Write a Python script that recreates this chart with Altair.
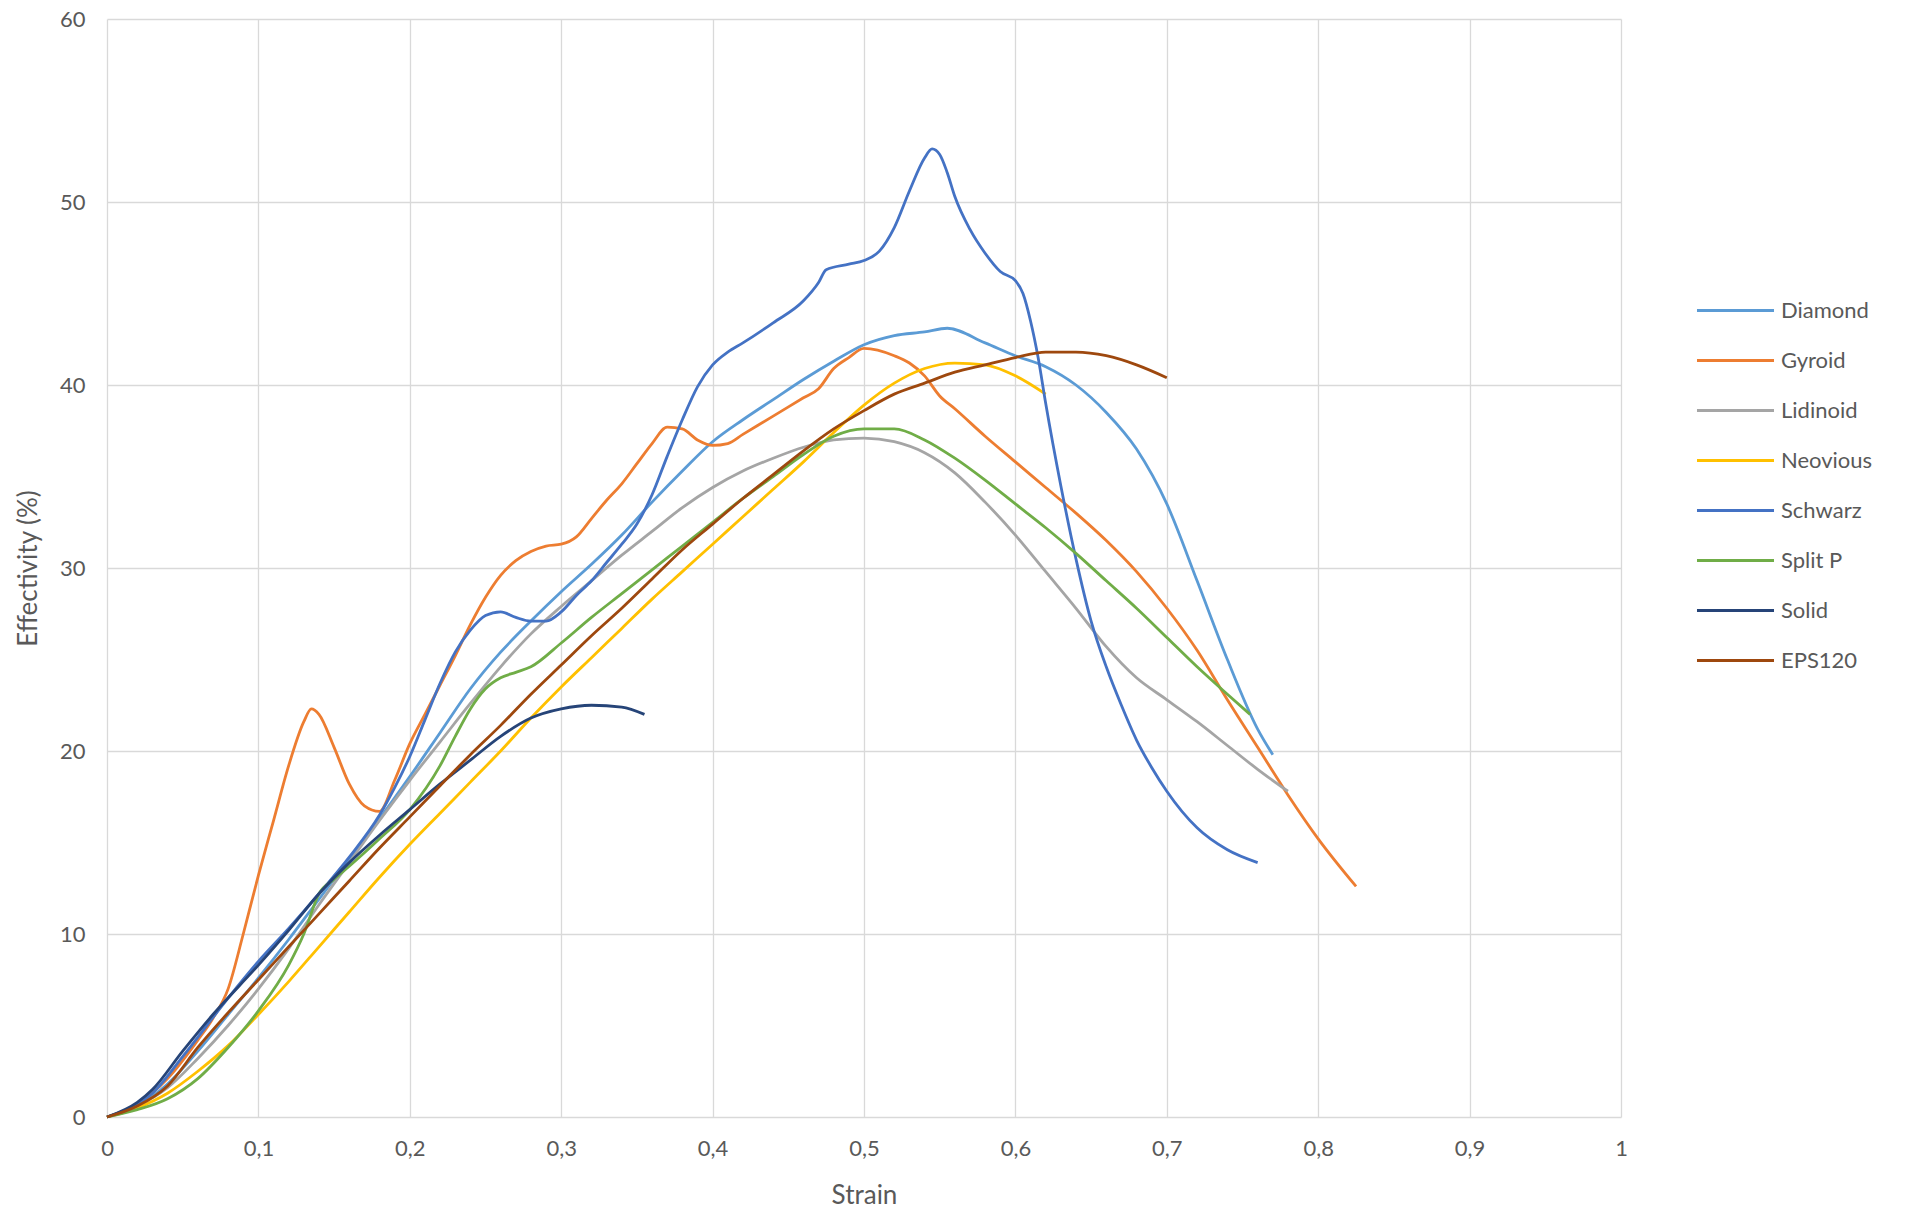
import altair as alt
import pandas as pd

# Effectivity (%) against strain for each lattice / reference material
series_names = ["Diamond", "Gyroid", "Lidinoid", "Neovious", "Schwarz", "Split P", "Solid", "EPS120"]
series_colors = ["#5B9BD5", "#ED7D31", "#A5A5A5", "#FFC000", "#4472C4", "#70AD47", "#264478", "#9E480E"]

diamond_x = [0, 0.02, 0.04, 0.06, 0.08, 0.1, 0.12, 0.14, 0.16, 0.18, 0.2, 0.22, 0.24, 0.26, 0.28,
             0.3, 0.32, 0.34, 0.36, 0.38, 0.4, 0.42, 0.44, 0.46, 0.48, 0.5, 0.52, 0.54, 0.555, 0.58,
             0.6, 0.62, 0.64, 0.66, 0.68, 0.7, 0.72, 0.74, 0.76, 0.77]
diamond_y = [0, 0.6, 1.8, 3.6, 5.6, 7.6, 9.7, 11.9, 14.1, 16.3, 18.6, 21.0, 23.4, 25.4, 27.1,
             28.7, 30.2, 31.8, 33.6, 35.3, 36.9, 38.1, 39.2, 40.3, 41.3, 42.2, 42.7, 42.9, 43.1, 42.3,
             41.6, 41.0, 40.0, 38.5, 36.5, 33.5, 29.3, 25.0, 21.2, 19.8]

gyroid_x = [0, 0.02, 0.04, 0.06, 0.07, 0.08, 0.09, 0.1, 0.11, 0.12, 0.13, 0.135, 0.14, 0.15, 0.16,
            0.17, 0.18, 0.19, 0.2, 0.21, 0.22, 0.23, 0.24, 0.25, 0.26, 0.27, 0.28, 0.29, 0.3, 0.31,
            0.32, 0.33, 0.34, 0.35, 0.36, 0.37, 0.38, 0.39, 0.4, 0.41, 0.42, 0.44, 0.46, 0.47, 0.48,
            0.49, 0.5, 0.52, 0.53, 0.54, 0.55, 0.56, 0.58, 0.6, 0.62, 0.64, 0.66, 0.68, 0.7, 0.72,
            0.74, 0.76, 0.78, 0.8, 0.825]
gyroid_y = [0, 0.7, 2.1, 4.2, 5.4, 7.0, 10.0, 13.2, 16.2, 19.2, 21.6, 22.3, 22.0, 20.2, 18.2,
            17.0, 16.7, 18.4, 20.4, 22.0, 23.6, 25.2, 26.9, 28.4, 29.6, 30.4, 30.9, 31.2, 31.3, 31.7,
            32.7, 33.7, 34.6, 35.7, 36.8, 37.7, 37.6, 37.0, 36.7, 36.8, 37.3, 38.3, 39.3, 39.8, 40.9,
            41.5, 42.0, 41.6, 41.2, 40.5, 39.4, 38.7, 37.2, 35.8, 34.4, 33.0, 31.5, 29.8, 27.8, 25.5,
            22.8, 20.2, 17.6, 15.2, 12.6]

lidinoid_x = [0, 0.02, 0.04, 0.06, 0.08, 0.1, 0.12, 0.14, 0.16, 0.18, 0.2, 0.22, 0.24, 0.26, 0.28,
              0.3, 0.32, 0.34, 0.36, 0.38, 0.4, 0.42, 0.44, 0.46, 0.48, 0.5, 0.52, 0.54, 0.56, 0.58,
              0.6, 0.62, 0.64, 0.66, 0.68, 0.7, 0.72, 0.74, 0.76, 0.78]
lidinoid_y = [0, 0.6, 1.6, 3.2, 5.0, 7.0, 9.2, 11.6, 13.9, 16.2, 18.4, 20.5, 22.6, 24.6, 26.4,
              27.9, 29.3, 30.7, 32.0, 33.3, 34.4, 35.3, 36.0, 36.6, 37.0, 37.1, 36.9, 36.3, 35.2, 33.6,
              31.8, 29.8, 27.8, 25.7, 24.0, 22.8, 21.6, 20.3, 19.0, 17.8]

neovious_x = [0, 0.02, 0.04, 0.06, 0.08, 0.1, 0.12, 0.14, 0.16, 0.18, 0.2, 0.22, 0.24, 0.26, 0.28,
              0.3, 0.32, 0.34, 0.36, 0.38, 0.4, 0.42, 0.44, 0.46, 0.48, 0.5, 0.52, 0.54, 0.56, 0.58,
              0.6, 0.62]
neovious_y = [0, 0.5, 1.3, 2.5, 3.9, 5.6, 7.4, 9.3, 11.2, 13.1, 14.9, 16.6, 18.3, 20.0, 21.8,
              23.5, 25.1, 26.7, 28.3, 29.8, 31.3, 32.8, 34.3, 35.8, 37.4, 38.9, 40.1, 40.9, 41.2, 41.1,
              40.5, 39.5]

schwarz_x = [0, 0.02, 0.03, 0.05, 0.08, 0.1, 0.12, 0.14, 0.16, 0.18, 0.19, 0.2, 0.21, 0.22, 0.23,
             0.24, 0.25, 0.26, 0.27, 0.28, 0.29, 0.3, 0.31, 0.32, 0.33, 0.34, 0.35, 0.36, 0.37, 0.38,
             0.39, 0.4, 0.41, 0.42, 0.44, 0.46, 0.47, 0.475, 0.49, 0.5, 0.51, 0.52, 0.53, 0.54, 0.545,
             0.55, 0.555, 0.56, 0.57, 0.58, 0.59, 0.6, 0.605, 0.61, 0.615, 0.62, 0.63, 0.64, 0.65, 0.66,
             0.67, 0.68, 0.69, 0.7, 0.72, 0.74, 0.76]
schwarz_y = [0, 0.7, 1.3, 3.3, 6.5, 8.5, 10.3, 12.2, 14.2, 16.5, 18.0, 19.7, 21.7, 23.7, 25.4,
             26.6, 27.4, 27.6, 27.3, 27.1, 27.1, 27.6, 28.5, 29.3, 30.3, 31.3, 32.4, 34.0, 36.1, 38.1,
             39.9, 41.1, 41.8, 42.3, 43.4, 44.6, 45.6, 46.3, 46.6, 46.8, 47.3, 48.6, 50.6, 52.4, 52.9,
             52.6, 51.6, 50.3, 48.5, 47.2, 46.2, 45.7, 45.0, 43.5, 41.5, 39.0, 34.5, 30.5, 27.1, 24.6,
             22.5, 20.6, 19.1, 17.8, 15.8, 14.6, 13.9]

splitp_x = [0, 0.02, 0.04, 0.06, 0.08, 0.1, 0.12, 0.13, 0.14, 0.15, 0.16, 0.18, 0.2, 0.22, 0.23,
            0.24, 0.25, 0.26, 0.27, 0.28, 0.3, 0.32, 0.34, 0.36, 0.38, 0.4, 0.42, 0.44, 0.46, 0.48,
            0.5, 0.52, 0.54, 0.56, 0.58, 0.6, 0.62, 0.64, 0.66, 0.68, 0.7, 0.72, 0.74, 0.755]
splitp_y = [0, 0.4, 1.0, 2.1, 3.8, 5.8, 8.3, 10.0, 12.2, 13.0, 13.7, 15.2, 16.8, 19.2, 20.8,
            22.3, 23.4, 24.0, 24.3, 24.6, 25.9, 27.3, 28.6, 29.9, 31.2, 32.5, 33.8, 35.0, 36.2, 37.2,
            37.6, 37.6, 37.0, 36.0, 34.8, 33.5, 32.2, 30.8, 29.3, 27.8, 26.2, 24.6, 23.1, 22.0]

solid_x = [0, 0.02, 0.03, 0.05, 0.07, 0.1, 0.12, 0.14, 0.16, 0.18, 0.2, 0.22, 0.24, 0.26, 0.28,
           0.3, 0.32, 0.34, 0.355]
solid_y = [0, 0.8, 1.5, 3.6, 5.6, 8.3, 10.2, 12.2, 13.9, 15.4, 16.8, 18.2, 19.5, 20.8, 21.8,
           22.3, 22.5, 22.4, 22.0]

eps120_x = [0, 0.02, 0.04, 0.06, 0.08, 0.1, 0.12, 0.14, 0.16, 0.18, 0.2, 0.22, 0.24, 0.26, 0.28,
            0.3, 0.32, 0.34, 0.36, 0.38, 0.4, 0.42, 0.44, 0.46, 0.48, 0.5, 0.52, 0.54, 0.56, 0.58,
            0.6, 0.62, 0.64, 0.66, 0.68, 0.7]
eps120_y = [0, 0.6, 1.7, 3.8, 5.7, 7.5, 9.3, 11.1, 12.9, 14.7, 16.4, 18.1, 19.8, 21.4, 23.1,
            24.7, 26.3, 27.8, 29.4, 31.0, 32.4, 33.8, 35.1, 36.4, 37.6, 38.6, 39.5, 40.1, 40.7, 41.1,
            41.5, 41.8, 41.8, 41.6, 41.1, 40.4]

x_ticks = [0, 0.1, 0.2, 0.3, 0.4, 0.5, 0.6, 0.7, 0.8, 0.9, 1.0]
y_ticks = [0, 10, 20, 30, 40, 50, 60]

curves = [
    ("Diamond", diamond_x, diamond_y),
    ("Gyroid", gyroid_x, gyroid_y),
    ("Lidinoid", lidinoid_x, lidinoid_y),
    ("Neovious", neovious_x, neovious_y),
    ("Schwarz", schwarz_x, schwarz_y),
    ("Split P", splitp_x, splitp_y),
    ("Solid", solid_x, solid_y),
    ("EPS120", eps120_x, eps120_y),
]

rows = []
for order, (name, xs, ys) in enumerate(curves):
    for i, (sx, sy) in enumerate(zip(xs, ys)):
        rows.append({"series": name, "order": order, "idx": i, "strain": sx, "eff": sy})
df = pd.DataFrame(rows)

FONT = "Lato"
TEXT = "#595959"
GRID = "#D9D9D9"

comma_label = "replace(format(datum.value, '~g'), '.', ',')"

chart = alt.Chart(df).mark_line(strokeWidth=2.8, interpolate="monotone").encode(
    x=alt.X("strain:Q",
            scale=alt.Scale(domain=[0, 1], nice=False, zero=False),
            axis=alt.Axis(title="Strain", values=x_ticks, labelExpr=comma_label,
                          grid=True, ticks=False, domain=False,
                          labelPadding=21, titlePadding=23,
                          labelFlush=False, labelOverlap=False)),
    y=alt.Y("eff:Q",
            scale=alt.Scale(domain=[0, 60], nice=False),
            axis=alt.Axis(title="Effectivity (%)", values=y_ticks,
                          grid=True, ticks=False, domain=False,
                          labelPadding=22, titlePadding=18,
                          labelFlush=False, labelOverlap=False)),
    color=alt.Color("series:N",
                    scale=alt.Scale(domain=series_names, range=series_colors),
                    sort=series_names,
                    legend=alt.Legend(title=None, orient="none",
                                      legendX=1614, legendY=277,
                                      symbolType="M-3,0H3", symbolSize=659,
                                      symbolStrokeWidth=3, labelOffset=31,
                                      rowPadding=24, padding=0)),
    detail="series:N",
    order=alt.Order("idx:Q"),
).properties(
    width=1514,
    height=1098,
    autosize=alt.AutoSizeParams(type="none"),
    padding={"left": 107, "top": 19, "right": 284, "bottom": 98},
    background="white",
).configure_axis(
    gridColor=GRID,
    gridWidth=1.3,
    labelFont=FONT,
    labelFontSize=22,
    labelColor=TEXT,
    titleFont=FONT,
    titleFontSize=26,
    titleFontWeight="normal",
    titleColor=TEXT,
).configure_legend(
    labelFont=FONT,
    labelFontSize=22,
    labelColor=TEXT,
).configure_view(
    stroke=None,
)

chart.save("out.html", embed_options={"renderer": "svg", "actions": False})
